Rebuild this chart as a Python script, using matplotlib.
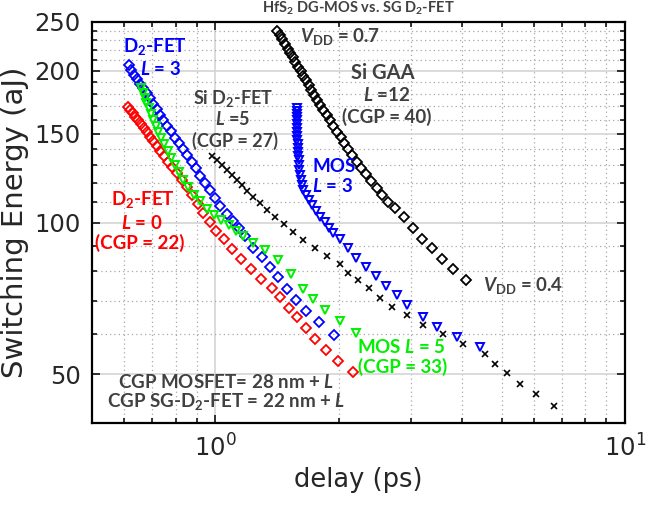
import matplotlib
matplotlib.use("Agg")
import matplotlib.pyplot as plt
from matplotlib.ticker import FixedLocator, NullFormatter, FixedFormatter

# ---- data (delay in ps, energy in aJ) ----
d2fet_l0_delay = [0.611, 0.619, 0.628, 0.637, 0.646, 0.657, 0.668, 0.680, 0.693, 0.706,
                  0.719, 0.734, 0.750, 0.767, 0.785, 0.805, 0.827, 0.851, 0.877, 0.905,
                  0.935, 0.968, 1.004, 1.050, 1.096, 1.153, 1.220, 1.291, 1.375, 1.438,
                  1.512, 1.580, 1.660, 1.751, 1.863, 1.988, 2.165]
d2fet_l0_energy = [169.7, 167.2, 164.6, 162.0, 159.4, 156.8, 154.0, 151.2, 148.1, 145.1,
                   142.0, 138.8, 135.5, 132.0, 128.6, 125.2, 121.5, 117.6, 113.4, 108.8,
                   104.3, 100.2, 96.3, 92.6, 88.5, 84.5, 80.8, 77.4, 74.0, 71.1,
                   67.8, 64.9, 61.8, 58.8, 55.9, 53.0, 50.4]

d2fet_l3_delay = [0.614, 0.624, 0.634, 0.644, 0.655, 0.667, 0.680, 0.693, 0.706, 0.719,
                  0.733, 0.746, 0.762, 0.780, 0.797, 0.816, 0.835, 0.855, 0.876, 0.895,
                  0.918, 0.944, 0.971, 0.998, 1.027, 1.066, 1.103, 1.139, 1.182, 1.239,
                  1.298, 1.356, 1.420, 1.494, 1.574, 1.668, 1.791, 1.949]
d2fet_l3_energy = [205.3, 200.7, 196.6, 192.6, 188.3, 184.5, 180.5, 176.4, 172.2, 168.0,
                   163.8, 159.7, 155.6, 151.6, 147.4, 143.6, 139.9, 136.1, 131.8, 128.0,
                   123.7, 119.7, 116.0, 111.8, 107.8, 104.2, 100.9, 97.7, 94.2, 89.0,
                   85.4, 81.5, 77.8, 73.8, 70.3, 66.8, 63.4, 59.9]

mos_l5_delay = [0.657, 0.664, 0.672, 0.679, 0.687, 0.697, 0.706, 0.715, 0.726, 0.737,
                0.751, 0.765, 0.780, 0.797, 0.816, 0.835, 0.859, 0.887, 0.918, 0.953,
                0.990, 1.033, 1.077, 1.123, 1.170, 1.238, 1.322, 1.425, 1.526, 1.634,
                1.735, 1.853, 2.016, 2.205]
mos_l5_energy = [184.9, 180.7, 176.6, 172.6, 168.4, 164.0, 159.7, 155.6, 151.4, 147.3,
                 142.9, 138.5, 134.1, 129.9, 125.8, 121.7, 117.6, 113.6, 110.1, 106.6,
                 103.7, 101.1, 98.9, 96.4, 94.2, 91.2, 88.2, 84.3, 79.0, 73.8,
                 70.4, 67.1, 63.8, 60.3]

mos_l3_delay = [1.580, 1.580, 1.580, 1.580, 1.581, 1.582, 1.583, 1.584, 1.585, 1.586,
                1.588, 1.590, 1.592, 1.594, 1.596, 1.599, 1.603, 1.607, 1.614, 1.624,
                1.637, 1.660, 1.688, 1.722, 1.761, 1.801, 1.847, 1.894, 1.938, 2.016,
                2.108, 2.205, 2.332, 2.467, 2.610, 2.777, 2.937, 3.213, 3.476, 3.890,
                4.428]
mos_l3_energy = [168.7, 166.4, 164.2, 162.0, 159.7, 156.8, 154.0, 151.2, 148.5, 145.8,
                 143.1, 140.5, 138.0, 135.5, 133.0, 130.1, 127.1, 124.3, 121.5, 118.7,
                 116.0, 113.4, 110.8, 108.3, 105.4, 102.5, 100.2, 97.5, 95.3, 92.7,
                 89.0, 85.0, 81.5, 78.3, 74.8, 71.8, 68.6, 64.9, 62.0, 59.2,
                 56.6]

si_d2fet_delay = [0.980, 1.008, 1.037, 1.066, 1.096, 1.128, 1.160, 1.197, 1.238, 1.286,
                  1.335, 1.399, 1.474, 1.550, 1.640, 1.751, 1.877, 2.016, 2.112, 2.234,
                  2.376, 2.523, 2.695, 2.933, 3.208, 3.589, 4.030, 4.552, 4.816, 5.144,
                  5.542, 6.063, 6.709]
si_d2fet_energy = [135.8, 133.0, 130.1, 127.1, 124.3, 121.5, 118.7, 115.6, 112.5, 109.1,
                   105.9, 102.4, 99.3, 95.9, 92.3, 88.9, 85.8, 82.7, 79.5, 76.9,
                   74.0, 70.9, 68.1, 65.5, 62.6, 60.0, 57.4, 54.8, 52.5, 50.2,
                   47.8, 45.6, 43.3]

si_gaa_delay = [1.417, 1.438, 1.457, 1.480, 1.502, 1.522, 1.545, 1.568, 1.592, 1.616,
                1.640, 1.662, 1.690, 1.715, 1.744, 1.774, 1.804, 1.835, 1.870, 1.905,
                1.941, 1.978, 2.023, 2.065, 2.112, 2.160, 2.214, 2.272, 2.332, 2.399,
                2.477, 2.556, 2.644, 2.746, 2.888, 3.043, 3.190, 3.375, 3.570, 3.809,
                4.093]
si_gaa_energy = [240.3, 235.6, 231.0, 226.1, 221.3, 217.0, 212.7, 208.2, 203.8, 199.5,
                 195.3, 191.5, 187.4, 183.4, 179.3, 175.2, 171.3, 167.4, 163.4, 159.5,
                 155.4, 151.4, 147.6, 143.6, 139.7, 135.9, 132.0, 128.5, 124.6, 120.9,
                 117.1, 113.5, 110.0, 106.7, 102.4, 97.4, 92.6, 88.9, 84.5, 80.7,
                 76.9]

y_major = [50, 100, 150, 200, 250]
y_minor = [60, 70, 80, 90, 110, 120, 130, 140, 160, 170, 180, 190, 210, 220, 230, 240]
x_major = [1, 10]
x_minor = [0.6, 0.7, 0.8, 0.9, 2, 3, 4, 5, 6, 7, 8, 9]
x_major_labels = ["$10^0$", "$10^1$"]

TEXT_GRAY = "#404040"
RED = "#ff0000"
BLUE = "#0000ff"
GREEN = "#00f000"

# annotations use a "custom" math font family (Lato bold), ticks stay DejaVu
plt.rcParams["mathtext.rm"] = "Lato:bold"
plt.rcParams["mathtext.it"] = "Lato:italic:bold"
plt.rcParams["mathtext.bf"] = "Lato:bold"

fig = plt.figure(figsize=(6.49, 5.08), dpi=100)
ax = fig.add_axes([0.1418, 0.1673, 0.8213, 0.7894])

mk = dict(linestyle="none", markerfacecolor="none")
ax.plot(d2fet_l0_delay, d2fet_l0_energy, marker="D", color=RED, ms=4.6, mew=1.3, **mk)
ax.plot(d2fet_l3_delay, d2fet_l3_energy, marker="D", color=BLUE, ms=4.6, mew=1.3, **mk)
ax.plot(mos_l5_delay, mos_l5_energy, marker="v", color=GREEN, ms=6, mew=1.4, **mk)
ax.plot(mos_l3_delay, mos_l3_energy, marker="v", color=BLUE, ms=6, mew=1.4, **mk)
ax.plot(si_d2fet_delay, si_d2fet_energy, marker="x", color="black", ms=5, mew=1.2, **mk)
ax.plot(si_gaa_delay, si_gaa_energy, marker="D", color="black", ms=4.6, mew=1.3, **mk)

ax.set_xscale("log")
ax.set_yscale("log")
ax.set_xlim(0.5, 10)
ax.set_ylim(40, 250)

ax.xaxis.set_major_locator(FixedLocator(x_major))
ax.xaxis.set_major_formatter(FixedFormatter(x_major_labels))
ax.xaxis.set_minor_locator(FixedLocator(x_minor))
ax.xaxis.set_minor_formatter(NullFormatter())
ax.yaxis.set_major_locator(FixedLocator(y_major))
ax.yaxis.set_major_formatter(FixedFormatter([str(v) for v in y_major]))
ax.yaxis.set_minor_locator(FixedLocator(y_minor))
ax.yaxis.set_minor_formatter(NullFormatter())

ax.grid(which="major", color="#d4d4d4", linewidth=1.2, linestyle="-")
ax.grid(which="minor", color="#a8a8a8", linewidth=0.9, linestyle=(0, (1, 2.5)))
ax.set_axisbelow(True)

ax.tick_params(which="both", direction="in", top=True, right=True, width=1.1,
               colors="black", labelcolor="#262626")
ax.tick_params(which="major", length=6, labelsize=17.5, pad=8)
ax.tick_params(which="minor", length=3.5)
for sp in ax.spines.values():
    sp.set_linewidth(1.6)

ax.set_xlabel("delay (ps)", fontsize=18.5, color="#262626", labelpad=4)
ax.set_ylabel("Switching Energy (aJ)", fontsize=21, color="#262626", labelpad=4)

fig.text(0.552, 0.984, r"HfS$_{\mathrm{2}}$ DG-MOS vs. SG D$_{\mathrm{2}}$-FET",
         ha="center", va="center", fontsize=10.5, color=TEXT_GRAY,
         family="Lato", weight="bold", math_fontfamily="custom")


def note(x, y, s, color, ha="center", size=13.5):
    ax.text(x, y, s, transform=ax.transAxes, ha=ha, va="center", color=color,
            fontsize=size, family="Lato", weight="bold", math_fontfamily="custom")


note(0.118, 0.940, r"D$_{\mathrm{2}}$-FET", BLUE)
note(0.129, 0.884, r"$L$ = 3", BLUE)
note(0.264, 0.810, r"Si D$_{\mathrm{2}}$-FET", TEXT_GRAY, size=13)
note(0.264, 0.757, r"$L$ =5", TEXT_GRAY, size=13)
note(0.268, 0.704, "(CGP = 27)", TEXT_GRAY, size=13)
note(0.390, 0.963, r"$V_{\mathrm{DD}}$ = 0.7", TEXT_GRAY, ha="left")
note(0.546, 0.874, "Si GAA", TEXT_GRAY, size=14.5)
note(0.553, 0.818, r"$L$ =12", TEXT_GRAY)
note(0.553, 0.763, "(CGP = 40)", TEXT_GRAY)
note(0.454, 0.640, "MOS", BLUE)
note(0.452, 0.592, r"$L$ = 3", BLUE)
note(0.095, 0.558, r"D$_{\mathrm{2}}$-FET", RED)
note(0.094, 0.499, r"$L$ = 0", RED)
note(0.090, 0.450, "(CGP = 22)", RED)
note(0.581, 0.190, r"MOS $L$ = 5", GREEN)
note(0.582, 0.140, "(CGP = 33)", GREEN)
note(0.733, 0.344, r"$V_{\mathrm{DD}}$ = 0.4", TEXT_GRAY, ha="left")
note(0.251, 0.103, r"CGP MOSFET= 28 nm + $L$", TEXT_GRAY)
note(0.251, 0.053, r"CGP SG-D$_{\mathrm{2}}$-FET = 22 nm + $L$", TEXT_GRAY)

fig.savefig("out.png", dpi=100)
